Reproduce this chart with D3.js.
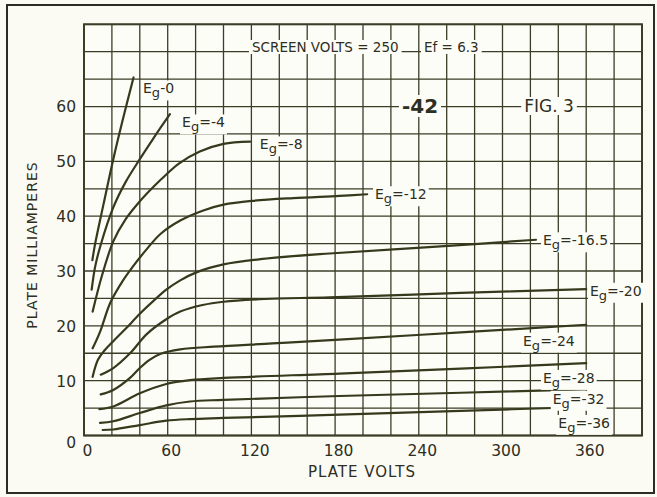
<!DOCTYPE html>
<html><head><meta charset="utf-8">
<script src="https://cdn.jsdelivr.net/npm/d3@7"></script>
<style>
html,body{margin:0;padding:0;background:#fbfbf4;}
svg{display:block;}
text{font-family:"DejaVu Sans",sans-serif;fill:#2e2e22;}
</style></head><body>
<svg id="chart" width="657" height="497"></svg>
<script>
// ---- data (plate volts, plate mA) ----
const gridBias = ["0","-4","-8","-12","-16.5","-20","-24","-28","-32","-36"];
const curveEg0   = [[6,32],[8,35],[14,42.2],[21,50.4],[28,57.8],[35.5,65.3]];
const curveEg4   = [[5.5,26.6],[8,30.8],[12,34.8],[21,41.6],[30,46.3],[40,50.4],[50,54.3],[61.6,58.6]];
const curveEg8   = [[6.2,22.6],[12.7,29],[21,35.4],[30,39.5],[40,42.7],[50,45.4],[59,47.6],[68,49.6],[83,51.8],[100,53.2],[119,53.6]];
const curveEg12  = [[6.2,15.9],[11.5,18.9],[19,24.3],[28,28.3],[35,30.8],[45,34],[55,36.8],[69,39.2],[85,41],[100,42.1],[121,42.8],[150,43.3],[183,43.7],[203,44]];
const curveEg165 = [[6.2,10.7],[10,13.8],[15,15.6],[21,17.2],[30,19.5],[40,22.2],[50,24.6],[59,26.6],[69,28.3],[81,29.8],[100,31.2],[128,32.2],[176,33.2],[250,34.4],[324,35.7]];
const curveEg20  = [[12,11.1],[21,12.3],[33,15],[45,18.5],[59,21.2],[69,22.6],[85,23.8],[100,24.4],[130,24.9],[176,25.2],[270,26],[360,26.7]];
const curveEg24  = [[12,7.5],[21,8.3],[33,10.5],[40,12.3],[47,13.8],[55,14.9],[69,15.7],[93,16.2],[135,16.8],[183,17.5],[270,18.8],[360,20.2]];
const curveEg28  = [[11,4.8],[21,5.3],[40,7.7],[59,9.4],[76,10.1],[100,10.5],[183,11.3],[270,12.2],[360,13.2]];
const curveEg32  = [[11.5,2.3],[21,2.6],[40,4.1],[59,5.5],[76,6.2],[100,6.5],[183,7.2],[270,7.8],[360,8.4]];
const curveEg36  = [[13.4,1.0],[21,1.1],[40,1.9],[59,2.7],[76,3.0],[100,3.2],[183,3.8],[270,4.5],[360,5.2]];
const xTicks = [0,60,120,180,240,300,360];
const yTicks = [0,10,20,30,40,50,60];
const titleText = "SCREEN VOLTS = 250";
const filamentText = "Ef = 6.3";
const tubeText = "-42";
const figText = "FIG. 3";
const xTitle = "PLATE VOLTS";
const yTitle = "PLATE MILLIAMPERES";

const curves = [curveEg0,curveEg4,curveEg8,curveEg12,curveEg165,curveEg20,curveEg24,curveEg28,curveEg32,curveEg36];
// label anchors in data units (volts, mA)
const labelAnchors = [[42.3,63.3],[70.3,57.1],[126,53.1],[208.6,44],[329,35.6],[362.7,26.4],[314.7,17.3],[329,10.5],[336,6.7],[340,2.3]];
const labelSep = ["-","=","=","=","=","=","=","=","=","="];

// ---- layout ----
const svg = d3.select("#chart");
const ink = "#3b3d26";
const x = d3.scaleLinear().domain([0,400]).range([84,642]);
const y = d3.scaleLinear().domain([0,75]).range([435.5,24.3]);

// outer frame
svg.append("rect").attr("x",7).attr("y",5).attr("width",647).attr("height",488)
  .attr("fill","#fbfbf4").attr("stroke","#2c2c24").attr("stroke-width",2);
svg.append("rect").attr("x",x(0)).attr("y",y(75)).attr("width",x(400)-x(0)).attr("height",y(0)-y(75))
  .attr("fill","#fdfdf7");

// grid
const g = svg.append("g");
g.selectAll("line.v").data(d3.range(0,401,20)).join("line")
  .attr("x1",d=>x(d)).attr("x2",d=>x(d)).attr("y1",y(0)).attr("y2",y(75))
  .attr("stroke",ink).attr("stroke-width",1.3);
g.selectAll("line.h").data(d3.range(0,76,5)).join("line")
  .attr("y1",d=>y(d)).attr("y2",d=>y(d)).attr("x1",x(0)).attr("x2",x(400))
  .attr("stroke",ink).attr("stroke-width",1.3);
svg.append("rect").attr("x",x(0)).attr("y",y(75)).attr("width",x(400)-x(0)).attr("height",y(0)-y(75))
  .attr("fill","none").attr("stroke",ink).attr("stroke-width",2);

// axes (labels only)
const xa = svg.append("g").attr("transform",`translate(0,${y(0)})`)
  .call(d3.axisBottom(x).tickValues(xTicks).tickSize(0).tickPadding(9));
xa.select(".domain").remove();
xa.selectAll("text").attr("font-size",15.5).attr("font-family","DejaVu Sans").attr("fill","#2e2e22")
  .attr("dx",3);
const ya = svg.append("g").attr("transform",`translate(${x(0)},0)`)
  .call(d3.axisLeft(y).tickValues(yTicks).tickSize(0).tickPadding(8));
ya.select(".domain").remove();
ya.selectAll("text").attr("font-size",15.5).attr("font-family","DejaVu Sans").attr("fill","#2e2e22")
  .attr("dy",d=>d===0?"0.75em":"0.35em");

svg.append("text").attr("x",362).attr("y",477).attr("text-anchor","middle")
  .attr("font-size",15).attr("letter-spacing",1).text(xTitle);
svg.append("text").attr("transform","translate(37,245) rotate(-90)").attr("text-anchor","middle")
  .attr("font-size",14).attr("letter-spacing",1).text(yTitle);

// header texts with paper background
function boxedText(tx,ty,str,size,weight,anchor){
  const t = svg.append("text").attr("x",tx).attr("y",ty).attr("font-size",size)
    .attr("font-weight",weight).attr("text-anchor",anchor).text(str);
  const b = t.node().getBBox();
  svg.insert("rect",()=>t.node()).attr("x",b.x-3).attr("y",b.y+1).attr("width",b.width+6)
    .attr("height",b.height-2).attr("fill","#fdfdf7");
  return t;
}
boxedText(252,52,titleText,13.5,"normal","start");
boxedText(424,52,filamentText,13.5,"normal","start");
boxedText(420,113,tubeText,20,"bold","middle");
boxedText(549,112,figText,17,"normal","middle");

// curves
const line = d3.line().x(d=>x(d[0])).y(d=>y(d[1])).curve(d3.curveCatmullRom.alpha(0.5));
svg.append("g").selectAll("path").data(curves).join("path")
  .attr("d",line).attr("fill","none").attr("stroke","#36391c").attr("stroke-width",2.2)
  .attr("stroke-linecap","round");

// curve labels
gridBias.forEach((b,i)=>{
  const a = labelAnchors[i];
  const t = svg.append("text").attr("x",x(a[0])).attr("y",y(a[1])+5).attr("font-size",14);
  t.append("tspan").text("E");
  t.append("tspan").attr("dy",4).attr("font-size",13).text("g");
  t.append("tspan").attr("dy",-4).text(labelSep[i] + b);
  const bb = t.node().getBBox();
  svg.insert("rect",()=>t.node()).attr("x",bb.x-2).attr("y",bb.y).attr("width",bb.width+4)
    .attr("height",bb.height).attr("fill","#fdfdf7");
});
</script></body></html>
